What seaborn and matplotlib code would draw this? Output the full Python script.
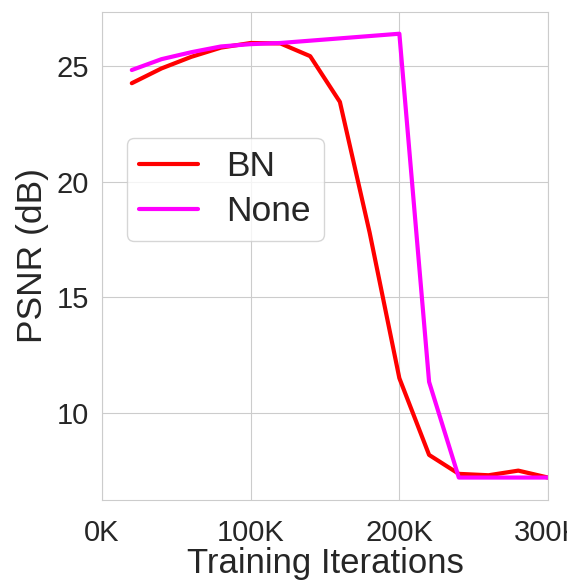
import numpy as np
import pandas as pd
import seaborn as sns
import matplotlib.pyplot as plt

# Data (PSNR every 20K iterations)
iterations = [20, 40, 60, 80, 100, 120, 140, 160, 180, 200, 220, 240, 260, 280, 300]
psnr_bn = [24.26, 24.9, 25.4, 25.8, 26.0, 25.98, 25.43, 23.45, 17.8, 11.5, 8.18, 7.36, 7.3, 7.5, 7.2]
psnr_none = [24.83, 25.3, 25.6, 25.85, 25.95, 26.0, 26.1, 26.2, 26.3, 26.4, 11.34, 7.2, 7.2, 7.2, 7.2]

df = pd.concat([
    pd.DataFrame({"iter": iterations, "psnr": psnr_bn, "method": "BN"}),
    pd.DataFrame({"iter": iterations, "psnr": psnr_none, "method": "None"}),
])

sns.set_style("whitegrid")
plt.rcParams["font.family"] = ["Liberation Sans", "DejaVu Sans"]

fig = plt.figure(figsize=(5.67, 5.83), dpi=100)
ax = fig.add_axes([0.18, 0.1424, 0.7865, 0.8370])

sns.lineplot(data=df, x="iter", y="psnr", hue="method",
             palette={"BN": "red", "None": "magenta"}, linewidth=3, ax=ax)

ax.set_xlim(0, 300)
ax.set_ylim(6.23, 27.34)
ax.set_xticks([0, 100, 200, 300])
ax.set_xticklabels(["0K", "100K", "200K", "300K"])
ax.set_yticks([10, 15, 20, 25])
ax.tick_params(labelsize=21, colors="#262626")
ax.tick_params(axis="x", pad=10)
ax.tick_params(axis="y", pad=6)
ax.set_xlabel("Training Iterations", fontsize=25, color="#262626", labelpad=0)
ax.set_ylabel("PSNR (dB)", fontsize=25.5, color="#262626", labelpad=5)

leg = ax.legend(loc="upper left", bbox_to_anchor=(0.056, 0.742), borderaxespad=0,
                fontsize=25.5, handlelength=1.64, handletextpad=0.82,
                borderpad=0.35, labelspacing=0.34)
leg.get_frame().set_edgecolor("#cccccc")
for t in leg.get_texts():
    t.set_color("#262626")

fig.savefig("out.png", dpi=100)
